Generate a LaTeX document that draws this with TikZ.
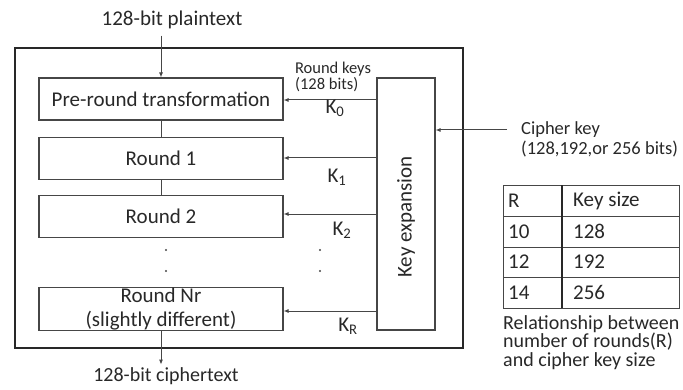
\documentclass[tikz,border=0pt]{standalone}
\usepackage{fontspec}
\setmainfont{Carlito}
\usetikzlibrary{arrows.meta, positioning, calc}
\definecolor{inkgray}{RGB}{40, 40, 40}
\definecolor{linegray}{RGB}{70, 70, 70}

\begin{document}
\begin{tikzpicture}[
    x=1pt, y=1pt,
    every node/.style={font=\fontsize{21}{24}\selectfont, text=inkgray, align=center},
    roundbox/.style={draw=linegray, line width=1.1pt, minimum width=244pt, minimum height=42pt, inner sep=0pt},
    keybox/.style={draw=linegray, line width=1.1pt, minimum width=58pt, minimum height=252pt, inner sep=0pt},
    smalltext/.style={font=\fontsize{16.5}{18}\selectfont, align=left},
    arr/.style={-{Latex[length=5pt, width=4pt]}, line width=1pt, color=linegray},
    link/.style={line width=1pt, color=linegray}
]
\useasboundingbox (0,0) rectangle (683,389);

% Outer frame of the cipher
\draw[line width=2.6pt, color=inkgray] (15,41) rectangle (463,341);

% Left column: round pipeline
\node[roundbox] (pre) at (161,290) {Pre-round transformation};
\node[roundbox, below=16pt of pre] (rnd1) {Round 1};
\node[roundbox, below=15pt of rnd1] (rnd2) {Round 2};
\node[roundbox, align=center] (rndnr) at (161,80) {Round Nr\\(slightly different)};

% Key expansion block
\node[keybox] (kexp) at (406,185) {};
\node[rotate=90] (kexplbl) at (406,172) {Key expansion};

% Plaintext in, ciphertext out
\node (plain) at (172,369) {128-bit plaintext};
\node[font=\fontsize{20}{22}\selectfont] (cipher) at (166,13) {128-bit ciphertext};
\draw[arr] (plain.south -| pre.north) ++(0,-3) -- (pre.north);
\draw[link] (pre) -- (rnd1);
\draw[link] (rnd1) -- (rnd2);
\draw[arr] (rndnr.south) -- ++(0,-34) coordinate (ctip);

% Round keys
\node[smalltext] (rkeys) at (333,312) {Round keys\\[-2pt](128 bits)};
\draw[arr] (kexp.west |- 0,289) -- (pre.east |- 0,289);
\draw[arr] (kexp.west |- 0,231) -- (rnd1.east |- 0,231);
\draw[arr] (kexp.west |- 0,175) -- (rnd2.east |- 0,175);
\draw[arr] (kexp.west |- 0,78) -- (rndnr.east |- 0,78);
\node (k0) at (335,281) {K\textsubscript{0}};
\node (k1) at (337,212) {K\textsubscript{1}};
\node (k2) at (342,159) {K\textsubscript{2}};
\node (kr) at (348,63) {K\textsubscript{R}};

% Vertical dots
\foreach \dx/\nm in {166/l, 320/r}
    \foreach \dy/\k in {139/a, 118/b}
        \fill[linegray] (\dx,\dy) circle (1.1pt) coordinate (dot\nm\k);

% Cipher key input
\node[anchor=north west, align=left, inner sep=0pt, font=\fontsize{18.5}{20}\selectfont] (ckey) at (521,268) {Cipher key\\(128,192,or 256 bits)};
\coordinate (ckin) at (507,259);
\draw[arr] (ckin) -- (kexp.east |- ckin);

% Table of rounds and key sizes
\draw[line width=1pt, color=linegray] (503,81) rectangle (679,204);
\foreach \ly in {173, 142, 112}
    \draw[line width=1pt, color=linegray] (503,\ly) -- (679,\ly);
\draw[line width=1.8pt, color=inkgray] (562,81) -- (562,204);
\foreach \ry/\rv/\kv/\nm in {188.5/R/Key size/hd, 157.5/10/128/a, 127/12/192/b, 96.5/14/256/c} {
    \node[anchor=west, inner sep=0pt] (rcol\nm) at (508,\ry) {\rv};
    \node[anchor=west, inner sep=0pt] (kcol\nm) at (573,\ry) {\kv};
}
\node[anchor=north west, align=left, inner sep=0pt, font=\fontsize{20}{18.5}\selectfont] (caption) at (503,74) {Relationship between\\number of rounds(R)\\and cipher key size};

\end{tikzpicture}
\end{document}
